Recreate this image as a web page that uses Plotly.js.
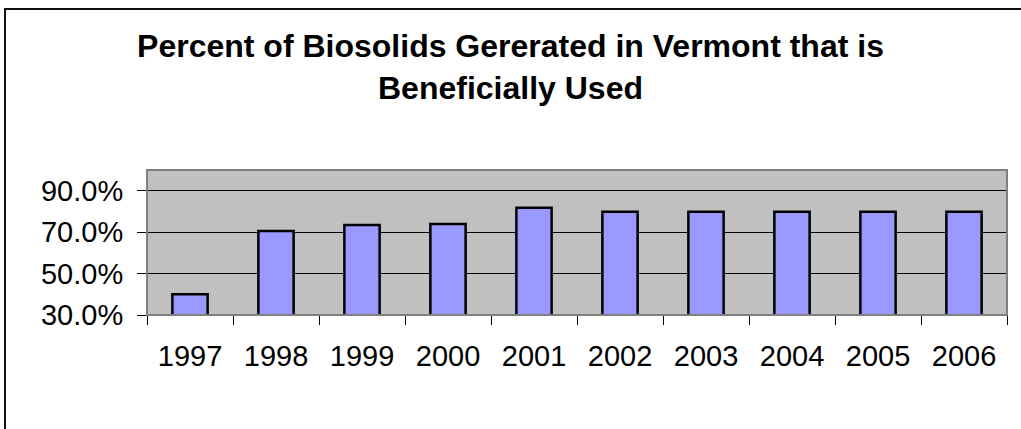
<!DOCTYPE html>
<html>
<head>
<meta charset="utf-8">
<script src="https://cdn.plot.ly/plotly-3.0.1.min.js"></script>
<style>
  html, body { margin: 0; padding: 0; background: #fff; overflow: hidden; }
  #chart { width: 1021px; height: 429px; position: relative; }
  #frame { position: absolute; left: 4px; top: 8px; width: 1100px; height: 500px;
           border: 2px solid #111; pointer-events: none; }
</style>
</head>
<body>
<div id="chart"></div>
<div id="frame"></div>
<script>
const years = ["1997", "1998", "1999", "2000", "2001", "2002", "2003", "2004", "2005", "2006"];
const percentUsed = [40.0, 70.5, 73.4, 73.9, 81.8, 79.8, 79.8, 79.8, 79.8, 79.8];
const yTickVals = [30, 50, 70, 90];
const yTickText = yTickVals.map(v => v.toFixed(1) + "%");
const titleText = "Percent of Biosolids Gererated in Vermont that is<br>Beneficially Used";

const font = "Liberation Sans, Arial, sans-serif";

const trace = {
  type: "bar",
  x: years,
  y: percentUsed,
  marker: { color: "#9999ff", line: { color: "#000000", width: 2.5 } },
  hoverinfo: "x+y"
};

const layout = {
  width: 1021, height: 429,
  margin: { l: 147, r: 14, t: 170, b: 114 },
  paper_bgcolor: "#ffffff",
  plot_bgcolor: "#c0c0c0",
  showlegend: false,
  bargap: 0.59,
  title: {
    text: titleText,
    font: { family: font, size: 32, color: "#000000", weight: "bold" },
    x: 0.5, xref: "container", xanchor: "center",
    y: 0.867, yref: "container", yanchor: "top"
  },
  xaxis: {
    type: "category",
    tickson: "boundaries",
    ticks: "outside", ticklen: 9, tickwidth: 1, tickcolor: "#000",
    showline: true, linecolor: "#000", linewidth: 1,
    showgrid: false,
    tickfont: { family: font, size: 29, color: "#000" },
    ticklabelstandoff: 15
  },
  yaxis: {
    range: [30, 100],
    tickmode: "array",
    tickvals: yTickVals,
    ticktext: yTickText,
    ticks: "outside", ticklen: 9, tickwidth: 1, tickcolor: "#000",
    showline: false,
    showgrid: true, gridcolor: "#000", gridwidth: 1,
    zeroline: false,
    tickfont: { family: font, size: 29, color: "#000" },
    ticklabelstandoff: 8
  },
  shapes: [{
    type: "rect", xref: "paper", yref: "paper", x0: 0, x1: 1, y0: 0, y1: 1,
    line: { color: "#808080", width: 2 }, fillcolor: "rgba(0,0,0,0)", layer: "above"
  }]
};

Plotly.newPlot("chart", [trace], layout, { displayModeBar: false, staticPlot: true });
</script>
</body>
</html>
